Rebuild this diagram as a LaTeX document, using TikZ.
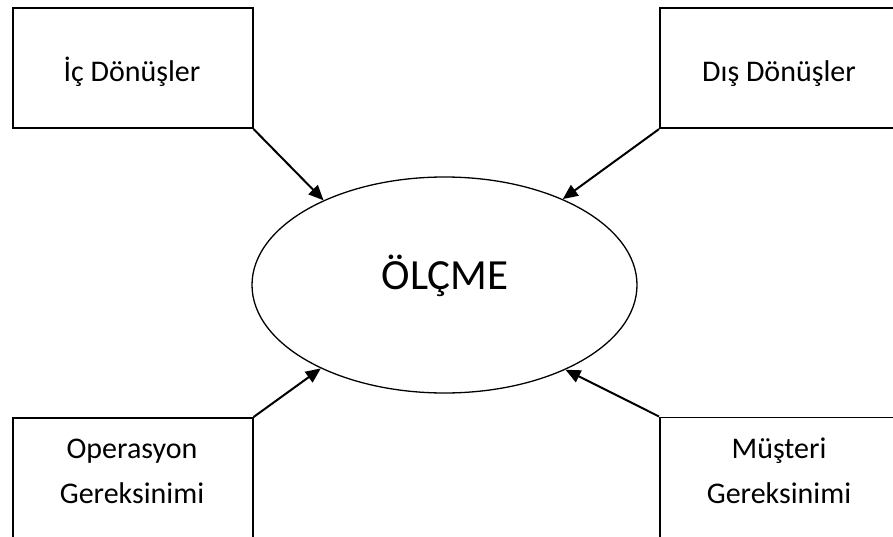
\documentclass[tikz,border=0pt]{standalone}
\usepackage{fontspec}
\setmainfont{Carlito}
\usetikzlibrary{shapes.geometric,arrows.meta}
\begin{document}
\begin{tikzpicture}[x=1pt,y=-1pt,
  boxnode/.style={draw,line width=1.6pt,minimum width=240pt,minimum height=125pt,inner sep=0pt,anchor=north west},
  lbl/.style={font=\fontsize{30}{45}\selectfont,anchor=base,inner sep=0pt,align=center},
  bigtext/.style={font=\fontsize{43}{50}\selectfont},
  conn/.style={line width=2pt,-{Triangle[length=15pt,width=13pt]}}]
\useasboundingbox (0,0) rectangle (893,537);
\clip (0,0) rectangle (893,537);
\node[boxnode,minimum height=120pt] (ic) at (12,7.5) {};
\node[boxnode,minimum height=120pt] (dis) at (659,7.5) {};
\node[boxnode] (op) at (12,417) {};
\node[boxnode] (mu) at (659,416.5) {};
\node[lbl] (ict) at (132,81.7) {İç Dönüşler};
\node[lbl] (dist) at (779,81.7) {Dış Dönüşler};
\node[lbl] (opt) at (132,503.3) {Operasyon\\Gereksinimi};
\node[lbl] (mut) at (779,503.3) {Müşteri\\Gereksinimi};
\node[draw,ellipse,line width=1.3pt,inner sep=0pt,minimum width=385pt,minimum height=216pt] (m) at (444.5,285) {};
\node[bigtext,anchor=base,inner sep=0pt] (mt) at (445,289.3) {ÖLÇME};
\draw[conn] (ic.south east) -- (m.145);
\draw[conn] (dis.south west) -- (m.36);
\draw[conn] (op.north east) -- (m.214);
\draw[conn] (mu.north west) -- (m.-35);
\end{tikzpicture}
\end{document}
